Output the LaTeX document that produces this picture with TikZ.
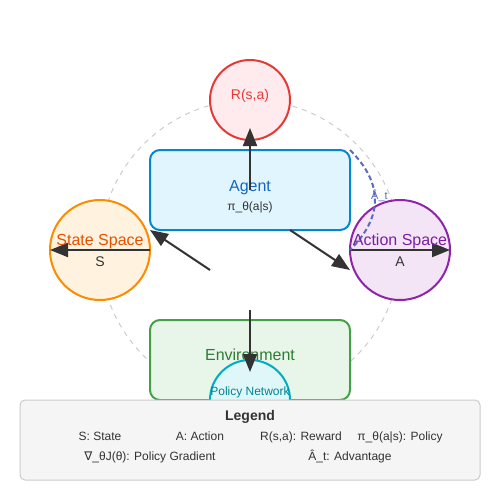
\documentclass[tikz,border=0pt]{standalone}
\usepackage{fontspec}
\setmainfont{Liberation Sans}
\newfontfamily\dejavu{DejaVu Sans}
\usetikzlibrary{arrows.meta}
\definecolor{ink}{HTML}{333333}
\definecolor{redS}{HTML}{E53935}\definecolor{redF}{HTML}{FFEBEE}
\definecolor{bluS}{HTML}{0288D1}\definecolor{bluF}{HTML}{E1F5FE}\definecolor{bluT}{HTML}{1565C0}
\definecolor{orgS}{HTML}{FB8C00}\definecolor{orgF}{HTML}{FFF3E0}\definecolor{orgT}{HTML}{E65100}
\definecolor{purS}{HTML}{8E24AA}\definecolor{purF}{HTML}{F3E5F5}\definecolor{purT}{HTML}{7B1FA2}
\definecolor{grnS}{HTML}{43A047}\definecolor{grnF}{HTML}{E8F5E9}\definecolor{grnT}{HTML}{2E7D32}
\definecolor{cyaS}{HTML}{00ACC1}\definecolor{cyaF}{HTML}{E0F7FA}\definecolor{cyaT}{HTML}{00838F}
\definecolor{indg}{HTML}{5C6BC0}
\definecolor{legF}{HTML}{F5F5F5}\definecolor{legS}{HTML}{CCCCCC}
\tikzset{
  circ/.style={circle,inner sep=0pt,minimum size=#1,line width=2pt},
  box/.style={rounded corners=10pt,minimum width=200pt,minimum height=80pt,line width=2pt,inner sep=0pt},
  flow/.style={draw=ink,line width=2pt,-{Triangle[length=18pt,width=14pt]}},
  lbl/.style={inner sep=0pt,anchor=base,font=\fontsize{#1}{#1}\selectfont},
}
\begin{document}
\begin{tikzpicture}[x=1pt,y=-1pt]
\useasboundingbox[fill=white] (0,0) rectangle (500,500);
% orbit
\draw[legS,line width=1pt,dash pattern=on 5pt off 5pt] (250,250) circle[radius=150];
% nodes
\node[circ=80pt,draw=redS,fill=redF] (rew) at (250,100) {};
\node[lbl=14,text=redS] at (250,100) {R(s,a)};
\node[box,draw=bluS,fill=bluF] (agent) at (250,190) {};
\node[lbl=16,text=bluT] at (250,191) {Agent};
\node[lbl=12,text=ink] at (250,210) {π\_θ(a|s)};
\node[circ=100pt,draw=orgS,fill=orgF] (state) at (100,250) {};
\node[circ=100pt,draw=purS,fill=purF] (action) at (400,250) {};
\node[box,draw=grnS,fill=grnF] (env) at (250,360) {};
\node[lbl=16,text=grnT] at (250,360) {Environment};
\node[circ=80pt,draw=cyaS,fill=cyaF] (pol) at (250,400) {};
\node[lbl=12,text=cyaT] at (250,395) {Policy Network};
% coordinates
\coordinate (a1) at (250,190); \coordinate (a2) at (250,128);
\coordinate (s1) at (210,270); \coordinate (s2) at (150,230);
\coordinate (sh1) at (150,250); \coordinate (sh2) at (50,250);
\coordinate (c1) at (290,230); \coordinate (c2) at (350,270);
\coordinate (ch1) at (350,250); \coordinate (ch2) at (450,250);
\coordinate (e1) at (250,310); \coordinate (e2) at (250,372);
\coordinate (g1) at (350,150); \coordinate (g2) at (350,250);
% connectors
\draw[flow] (a1) -- (a2);
\draw[flow] (s1) -- (s2);
\draw[flow] (sh1) -- (sh2);
\draw[flow] (c1) -- (c2);
\draw[flow] (ch1) -- (ch2);
\draw[flow] (e1) -- (e2);
\node[lbl=11,text=indg,anchor=base west] at (371,199) {Â\_t};
\draw[indg,line width=2pt,dash pattern=on 5pt off 3pt] (g1) .. controls (383.3,183.3) and (383.3,216.7) .. (g2);
% circle texts
\node[lbl=16,text=orgT] at (100,245) {State Space};
\node[lbl=14,text=ink] at (100,266) {S};
\node[lbl=16,text=purT] at (400,245) {Action Space};
\node[lbl=14,text=ink] at (400,266) {A};
% legend
\node[draw=legS,fill=legF,line width=1pt,rounded corners=5pt,minimum width=460pt,minimum height=80pt,inner sep=0pt] (leg) at (250,440) {};
\node[lbl=14,text=ink,font=\fontsize{14}{14}\selectfont\bfseries] at (250,420) {Legend};
\node[lbl=12,text=ink] at (100,440) {S: State};
\node[lbl=12,text=ink] at (200,440) {A: Action};
\node[lbl=12,text=ink] at (301,440) {R(s,a): Reward};
\node[lbl=12,text=ink] at (400,440) {π\_θ(a|s): Policy};
\node[lbl=12,text=ink] at (150,460) {{\dejavu ∇}\_θJ(θ): Policy Gradient};
\node[lbl=12,text=ink] at (350,460) {Â\_t: Advantage};
\end{tikzpicture}
\end{document}
